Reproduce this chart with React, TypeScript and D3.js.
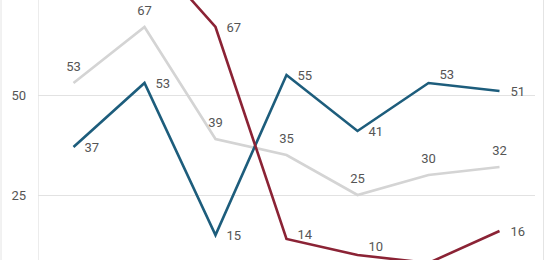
import React from "react";
import * as d3 from "d3";

const categories = ["1", "2", "3", "4", "5", "6", "7"];
const grayValues = [53, 67, 39, 35, 25, 30, 32];
const blueValues = [37, 53, 15, 55, 41, 53, 51];
const redValues = [84, 87, 67, 14, 10, 8, 16];
const yTicks = [25, 50];

const W = 546;
const H = 260;

export default function App() {
  const x = d3.scaleBand<string>().domain(categories).range([38, 535]);
  const cx = (c: string) => (x(c) as number) + x.bandwidth() / 2;
  const y = d3.scaleLinear().domain([0, 75]).range([295, -5]);

  const line = d3
    .line<number>()
    .x((_, i) => cx(categories[i]))
    .y((d) => y(d));

  const font = "Roboto, 'Noto Sans', sans-serif";
  const textColor = "#555";

  const series = [
    { values: grayValues, color: "#d4d4d4", label: "above" },
    { values: blueValues, color: "#1d5d7c", label: "right" },
    { values: redValues, color: "#8b2335", label: "right" },
  ];

  return (
    <svg
      width={W}
      height={H}
      style={{ position: "absolute", left: 0, top: 0 }}
      fontFamily={font}
    >
      <rect x={0} y={0} width={W} height={H} fill="#fff" />
      <line x1={1} x2={1} y1={0} y2={H} stroke="#e4e4e4" strokeWidth={1} />
      <line x1={543.5} x2={543.5} y1={0} y2={H} stroke="#e4e4e4" strokeWidth={1} />
      <line x1={38.5} x2={38.5} y1={0} y2={H} stroke="#ececec" strokeWidth={1} />
      {yTicks.map((t) => (
        <g key={t}>
          <line
            x1={38}
            x2={535}
            y1={Math.round(y(t)) + 0.5}
            y2={Math.round(y(t)) + 0.5}
            stroke="#e2e2e2"
            strokeWidth={1}
          />
          <text
            x={26}
            y={y(t)}
            dy="0.35em"
            textAnchor="end"
            fontSize={13}
            fill={textColor}
          >
            {t}
          </text>
        </g>
      ))}
      {series.map((s, si) => (
        <path
          key={si}
          d={line(s.values) || ""}
          fill="none"
          stroke={s.color}
          strokeWidth={2.6}
          strokeLinejoin="miter"
        />
      ))}
      {series.map((s, si) =>
        s.values.map((v, i) => {
          const px = cx(categories[i]);
          const py = y(v);
          if (py < 12 || py > H - 4) return null;
          if (s.label === "above") {
            return (
              <text
                key={`${si}-${i}`}
                x={px}
                y={py - 12}
                textAnchor="middle"
                fontSize={13}
                fill={textColor}
              >
                {v}
              </text>
            );
          }
          let lift = 0;
          if (i < s.values.length - 1) {
            const dy = Math.abs(y(s.values[i + 1]) - py);
            lift = Math.max(0, 13 - dy * 0.55);
          }
          return (
            <text
              key={`${si}-${i}`}
              x={px + 11}
              y={py + 4.5 - lift}
              textAnchor="start"
              fontSize={13}
              fill={textColor}
            >
              {v}
            </text>
          );
        })
      )}
    </svg>
  );
}
